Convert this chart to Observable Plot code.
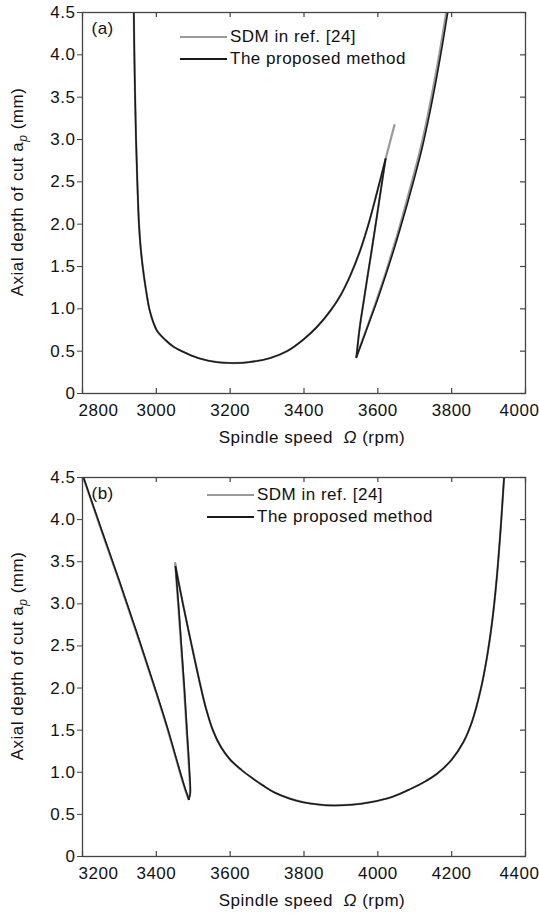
<!DOCTYPE html>
<html><head><meta charset="utf-8">
<script src="https://cdn.jsdelivr.net/npm/d3@7"></script>
<script src="https://cdn.jsdelivr.net/npm/@observablehq/plot@0.6"></script>
<style>
html,body{margin:0;padding:0;background:#fff;}
body{width:539px;height:917px;overflow:hidden;font-family:"Liberation Sans",Arial,sans-serif;}
.wrap{position:relative;}
.wrap svg{display:block;}
svg text{letter-spacing:0.5px;white-space:pre;}
.legend{position:absolute;font-size:17px;letter-spacing:0.5px;color:#111;}
.legend .row{display:flex;align-items:center;height:22px;white-space:nowrap;}
.legend .sw{display:inline-block;width:47px;height:0;margin-right:3px;}
.legend .gray{border-top:2px solid #9a9a9a;}
.legend .black{border-top:2px solid #1a1a1a;}
</style></head>
<body>
<div class="wrap" id="wa">
  <div class="legend" style="left:180px;top:26px">
    <div class="row"><span class="sw gray"></span><span>SDM in ref. [24]</span></div>
    <div class="row"><span class="sw black"></span><span>The proposed method</span></div>
  </div>
</div>
<div class="wrap" id="wb">
  <div class="legend" style="left:207px;top:29px">
    <div class="row"><span class="sw gray"></span><span>SDM in ref. [24]</span></div>
    <div class="row"><span class="sw black"></span><span>The proposed method</span></div>
  </div>
</div>
<script>
// ---------- tick values ----------
const xTicksA = [2800, 3000, 3200, 3400, 3600, 3800, 4000];
const xTicksB = [3200, 3400, 3600, 3800, 4000, 4200, 4400];
const yTicks = [0, 0.5, 1.0, 1.5, 2.0, 2.5, 3.0, 3.5, 4.0, 4.5];

// ---------- panel (a): [spindle speed rpm, depth mm] ----------
const aPropLobe1 = [[2939,4.5],[2940.5,4.0],[2942.5,3.5],[2945,3.0],[2948.5,2.5],[2953,2.0],[2957,1.75],[2963,1.5],[2971,1.25],[2981,1.0],[2991,0.85],[3002,0.74],[3025,0.63],[3047,0.55],[3084,0.47],[3120,0.41],[3165,0.37],[3200,0.36],[3250,0.37],[3309,0.42],[3354,0.50],[3399,0.64],[3436,0.79],[3472,0.98],[3499,1.16],[3526,1.40],[3553,1.70],[3576,2.02],[3598,2.38],[3621,2.77]];
const aPropLobe2Left = [[3621,2.77],[3608,2.40],[3596,2.05],[3584,1.71],[3572,1.38],[3561,1.07],[3551,0.78],[3542,0.43]];
const aPropLobe2Right = [[3542,0.43],[3560,0.64],[3580,0.88],[3600,1.12],[3620,1.38],[3640,1.65],[3660,1.94],[3680,2.24],[3700,2.56],[3720,2.90],[3740,3.30],[3760,3.75],[3775,4.12],[3790,4.52]];
const aSdmLobe1 = [[2939,4.5],[2940.5,4.0],[2942.5,3.5],[2945,3.0],[2948.5,2.5],[2953,2.0],[2957,1.75],[2963,1.5],[2971,1.25],[2981,1.0],[2991,0.85],[3002,0.74],[3025,0.63],[3047,0.55],[3084,0.47],[3120,0.41],[3165,0.37],[3200,0.36],[3250,0.37],[3309,0.42],[3354,0.50],[3399,0.64],[3436,0.79],[3472,0.98],[3499,1.16],[3526,1.40],[3553,1.70],[3576,2.02],[3598,2.38],[3621,2.77],[3633,2.97],[3645,3.17]];
const aSdmLobe2Left = [[3621,2.77],[3608,2.40],[3596,2.05],[3584,1.71],[3572,1.38],[3561,1.07],[3551,0.78],[3542,0.43]];
const aSdmLobe2Right = [[3542,0.43],[3559,0.64],[3579,0.88],[3598,1.12],[3618,1.38],[3637,1.65],[3657,1.94],[3676,2.24],[3696,2.56],[3716,2.90],[3736,3.30],[3756,3.75],[3771,4.12],[3786,4.52]];

// ---------- panel (b) ----------
const bPropLobeA = [[3203,4.5],[3250,3.90],[3300,3.27],[3350,2.62],[3400,1.95],[3430,1.53],[3455,1.15],[3475,0.85],[3488,0.68]];
const bPropLobeBLeft = [[3488,0.68],[3492,0.75],[3490,1.0],[3483,1.5],[3476,2.0],[3468,2.5],[3460,3.0],[3452,3.44]];
const bPropLobeBRight = [[3452,3.44],[3472,3.0],[3496,2.5],[3521,2.0],[3535,1.75],[3553,1.5],[3575,1.3],[3600,1.15],[3630,1.03],[3660,0.93],[3690,0.84],[3720,0.76],[3760,0.69],[3797,0.645],[3840,0.617],[3879,0.606],[3930,0.615],[3980,0.645],[4040,0.71],[4088,0.80],[4130,0.895],[4160,0.98],[4200,1.15],[4232,1.36],[4255,1.60],[4278,1.97],[4295,2.35],[4310,2.80],[4322,3.30],[4332,3.85],[4342,4.5]];
const bSdmLobeA = [[3202,4.5],[3249,3.90],[3299,3.27],[3349,2.62],[3399,1.95],[3429,1.53],[3454,1.15],[3474,0.85],[3487,0.68]];
const bSdmLobeBLeft = [[3487,0.68],[3491,0.75],[3489,1.0],[3482,1.5],[3475,2.0],[3467,2.5],[3459,3.0],[3451,3.48]];
const bSdmLobeBRight = [[3451,3.48],[3472,3.0],[3496,2.5],[3521,2.0],[3535,1.75],[3553,1.5],[3575,1.3],[3600,1.15],[3630,1.03],[3660,0.93],[3690,0.84],[3720,0.76],[3760,0.69],[3797,0.645],[3840,0.617],[3879,0.606],[3930,0.615],[3980,0.645],[4040,0.71],[4088,0.80],[4130,0.895],[4160,0.98],[4200,1.15],[4232,1.36],[4255,1.60],[4278,1.97],[4295,2.35],[4310,2.80],[4322,3.30],[4332,3.85],[4342,4.5]];

const panelLabels = ["(a)", "(b)"];
const xTitle = "Spindle speed  \u03A9 (rpm)";
const yTitle = "Axial depth of cut ap (mm)";

function rows(series, segs) {
  const out = [];
  segs.forEach((pts, i) => pts.forEach(([s, d]) => out.push({series, seg: series + i, speed: s, depth: d})));
  return out;
}

const FRAME = "#444";
const fmtY = d => d === 0 ? "0" : d.toFixed(1);

function panel({height, marginTop, marginBottom, xDomain, xTicks, sdm, prop, label}) {
  const innerH = height - marginTop - marginBottom;
  const innerW = 539 - 82 - 14;
  const sdmRows = rows("sdm", sdm);
  const propRows = rows("prop", prop);
  return Plot.plot({
    width: 539, height, marginLeft: 82, marginRight: 14, marginTop, marginBottom,
    style: {fontFamily: "'Liberation Sans', Arial, sans-serif", fontSize: "17px", background: "transparent", overflow: "visible", color: "#111"},
    x: {domain: xDomain},
    y: {domain: [0, 4.5]},
    marks: [
      Plot.line(sdmRows, {x: "speed", y: "depth", z: "seg", stroke: "#9a9a9a", strokeWidth: 2.2, curve: "catmull-rom", clip: true}),
      Plot.line(propRows, {x: "speed", y: "depth", z: "seg", stroke: "#1a1a1a", strokeWidth: 1.6, curve: "catmull-rom", clip: true}),
      Plot.frame({stroke: FRAME, strokeWidth: 1.3}),
      Plot.ruleX(xTicks, {insetTop: innerH - 5, stroke: FRAME, strokeWidth: 1.2}),
      Plot.ruleX(xTicks, {insetBottom: innerH - 5, stroke: FRAME, strokeWidth: 1.2}),
      Plot.ruleY(yTicks, {insetLeft: innerW - 5, stroke: FRAME, strokeWidth: 1.2}),
      Plot.axisY(yTicks, {anchor: "left", tickSize: 5, tickPadding: 2, tickFormat: fmtY, label: null, stroke: FRAME, fill: "#111"}),
      Plot.axisX(xTicks.slice(0, 1), {anchor: "bottom", tickSize: 0, tickPadding: 10, tickFormat: d => String(d), label: null, dx: 16, fill: "#111"}),
      Plot.axisX(xTicks.slice(1, -1), {anchor: "bottom", tickSize: 0, tickPadding: 10, tickFormat: d => String(d), label: null, fill: "#111"}),
      Plot.axisX(xTicks.slice(-1), {anchor: "bottom", tickSize: 0, tickPadding: 10, tickFormat: d => String(d), label: null, dx: -6, fill: "#111"}),
      Plot.text([xTitle], {frameAnchor: "bottom", lineAnchor: "middle", textAnchor: "middle", dy: 44, dx: 8, fill: "#111"}),
      Plot.text([yTitle], {frameAnchor: "left", rotate: -90, lineAnchor: "middle", textAnchor: "middle", dx: -65, dy: -11, fill: "#111"}),
      Plot.text([label], {frameAnchor: "top-left", lineAnchor: "top", textAnchor: "start", dx: 9, dy: 9, fill: "#111"})
    ]
  });
}

function decorate(svg) {
  d3.select(svg).selectAll("text").each(function() {
    const t = d3.select(this);
    if (this.textContent === yTitle) {
      t.text(null);
      t.append("tspan").text("Axial depth of cut a");
      t.append("tspan").attr("font-size", "12px").attr("font-style", "italic").attr("dy", "4").text("p");
      t.append("tspan").attr("dy", "-4").text(" (mm)");
    } else if (this.textContent === xTitle) {
      t.text(null);
      t.append("tspan").text("Spindle speed  ");
      t.append("tspan").attr("font-style", "italic").text("\u03A9");
      t.append("tspan").text(" (rpm)");
    }
  });
  return svg;
}

const svgA = decorate(panel({
  height: 455, marginTop: 12, marginBottom: 62,
  xDomain: [2800, 4000], xTicks: xTicksA,
  sdm: [aSdmLobe1, aSdmLobe2Left, aSdmLobe2Right],
  prop: [aPropLobe1, aPropLobe2Left, aPropLobe2Right],
  label: panelLabels[0]
}));
const svgB = decorate(panel({
  height: 462, marginTop: 22, marginBottom: 61,
  xDomain: [3200, 4400], xTicks: xTicksB,
  sdm: [bSdmLobeA, bSdmLobeBLeft, bSdmLobeBRight],
  prop: [bPropLobeA, bPropLobeBLeft, bPropLobeBRight],
  label: panelLabels[1]
}));
document.getElementById("wa").prepend(svgA);
document.getElementById("wb").prepend(svgB);
</script>
</body></html>
